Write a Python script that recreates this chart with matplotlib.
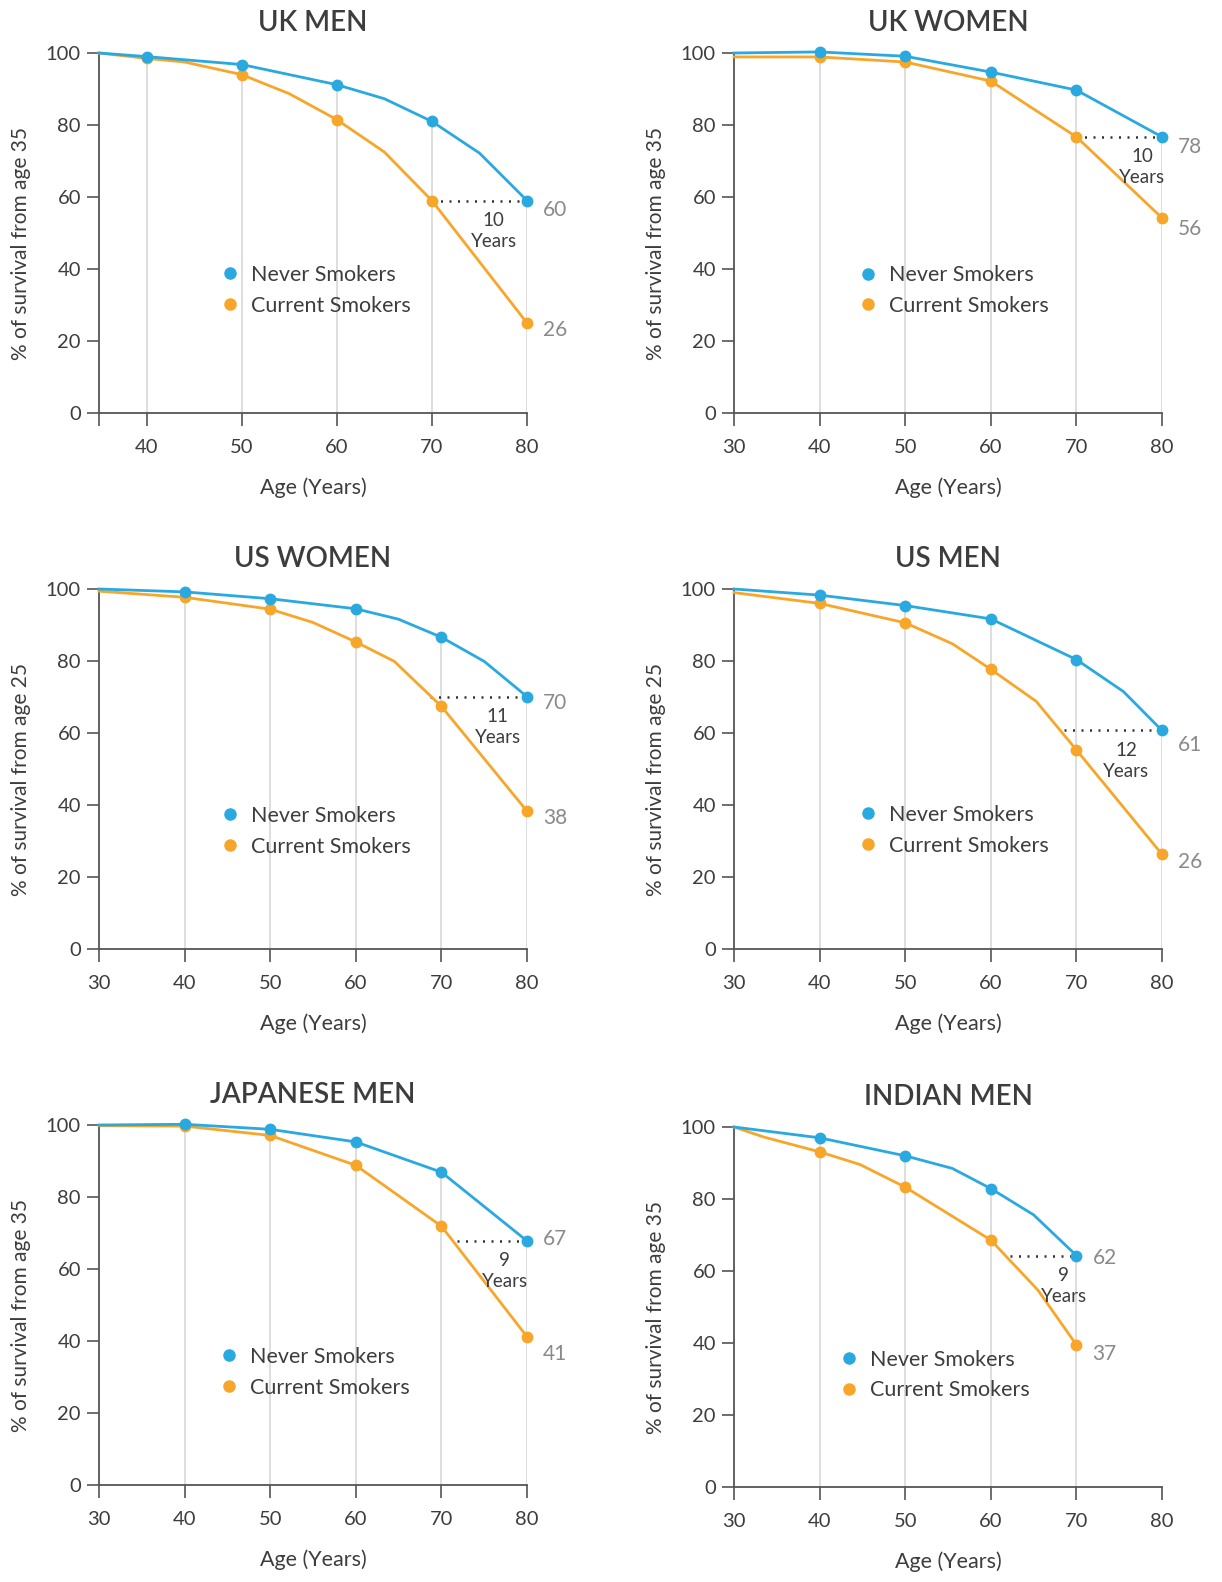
import numpy as np
import matplotlib
matplotlib.use("Agg")
import matplotlib.pyplot as plt
from matplotlib.lines import Line2D

plt.rcParams['font.family'] = ['Lato', 'DejaVu Sans']

# --- colours ---
BLUE = '#2aa9e0'
ORANGE = '#f8a62a'
DARK = '#3d3d3d'
AXIS = '#555555'
GRID = '#d4d4d4'
GREY = '#8a8a8a'

# --- data ---
titles = ["UK MEN", "UK WOMEN", "US WOMEN", "US MEN", "JAPANESE MEN", "INDIAN MEN"]
ylabels = ["% of survival from age 35", "% of survival from age 35",
           "% of survival from age 25", "% of survival from age 25",
           "% of survival from age 35", "% of survival from age 35"]
marker_ages = [40, 50, 60, 70, 80]
marker_ages_india = [40, 50, 60, 70]

uk_men_never_age = [35, 40, 50, 60, 65, 70, 75, 80]
uk_men_never = [100, 99.0, 96.8, 91.2, 87.3, 81.0, 72.2, 59.0]
uk_men_smoker_age = [35, 40, 44, 50, 55, 60, 65, 70, 80]
uk_men_smoker = [100, 98.5, 97.5, 94.0, 88.7, 81.5, 72.5, 59.0, 25.0]

uk_women_never_age = [30, 40, 50, 60, 70, 80]
uk_women_never = [100, 100.3, 99.1, 94.7, 89.7, 76.7]
uk_women_smoker_age = [30, 40, 50, 60, 70, 80]
uk_women_smoker = [98.9, 98.9, 97.5, 92.2, 76.7, 54.2]

us_women_never_age = [30, 40, 50, 60, 65, 70, 75, 80]
us_women_never = [100, 99.2, 97.3, 94.5, 91.6, 86.6, 79.9, 70.1]
us_women_smoker_age = [30, 40, 50, 55, 60, 64.5, 70, 80]
us_women_smoker = [99.4, 97.7, 94.4, 90.7, 85.3, 79.9, 67.4, 38.3]

us_men_never_age = [30, 40, 50, 60, 70, 75.5, 80]
us_men_never = [100, 98.3, 95.4, 91.7, 80.4, 71.5, 60.7]
us_men_smoker_age = [30, 40, 50, 55.5, 60, 65.3, 70, 80]
us_men_smoker = [99.0, 96.0, 90.6, 84.8, 77.7, 68.8, 55.3, 26.3]

jp_men_never_age = [30, 40, 50, 60, 70, 80]
jp_men_never = [100, 100.2, 98.8, 95.3, 86.9, 67.8]
jp_men_smoker_age = [30, 40, 50, 60, 70, 80]
jp_men_smoker = [99.8, 99.7, 97.1, 88.8, 71.9, 41.2]

in_men_never_age = [30, 40, 50, 55.5, 60, 65, 70]
in_men_never = [100, 97.0, 92.0, 88.5, 82.9, 75.6, 64.3]
in_men_smoker_age = [30, 33.5, 40, 44.7, 50, 60, 65.5, 70]
in_men_smoker = [100, 97.2, 93.1, 89.6, 83.3, 68.6, 54.7, 39.5]

# age at which smokers reach the never-smokers' final survival
gap_start = [70, 70, 68.7, 68.5, 71.8, 62.3]
gap_years = [10, 10, 11, 12, 9, 9]
end_never_labels = [60, 78, 70, 61, 67, 62]
end_smoker_labels = [26, 56, 38, 26, 41, 37]

panels = [
    (uk_men_never_age, uk_men_never, uk_men_smoker_age, uk_men_smoker, marker_ages),
    (uk_women_never_age, uk_women_never, uk_women_smoker_age, uk_women_smoker, marker_ages),
    (us_women_never_age, us_women_never, us_women_smoker_age, us_women_smoker, marker_ages),
    (us_men_never_age, us_men_never, us_men_smoker_age, us_men_smoker, marker_ages),
    (jp_men_never_age, jp_men_never, jp_men_smoker_age, jp_men_smoker, marker_ages),
    (in_men_never_age, in_men_never, in_men_smoker_age, in_men_smoker, marker_ages_india),
]

# --- layout (pixels on the 1222x1582 canvas) ---
W, H = 1222, 1582
ax_lefts = [99, 734, 99, 734, 99, 734]
ax_tops = [53, 53, 589, 589, 1125, 1127]
AX_W, AX_H = 428, 360
gap_text_x = [76.5, 77.7, 76.6, 75.8, 77.4, 68.5]
legend_anchor = [(0.280, 0.341), (0.287, 0.340), (0.280, 0.327),
                 (0.287, 0.330), (0.278, 0.313), (0.243, 0.311)]
never_dy = [-9, -10, -6, -15, 2, -2]
smoker_dy = [-7, -11, -7, -8, -17, -9]

fig = plt.figure(figsize=(W / 100, H / 100), dpi=100)

for i, (na, nv, sa, sv, mages) in enumerate(panels):
    ax = fig.add_axes([ax_lefts[i] / W, 1 - (ax_tops[i] + AX_H) / H, AX_W / W, AX_H / H])
    na, nv, sa, sv = map(np.asarray, (na, nv, sa, sv))
    nmask = np.isin(na, mages)
    smask = np.isin(sa, mages)

    # drop lines from the never-smoker points
    ax.vlines(na[nmask], 0, nv[nmask], color=GRID, lw=1.1, zorder=1)

    ax.plot(sa, sv, color=ORANGE, lw=2, marker='o', ms=7.5, markevery=smask,
            zorder=3, clip_on=False)
    ax.plot(na, nv, color=BLUE, lw=2, marker='o', ms=7.5, markevery=nmask,
            zorder=4, clip_on=False)

    # gap line
    ax.plot([gap_start[i], na[-1]], [nv[-1], nv[-1]], color='#333333', lw=1.8,
            linestyle=(0, (0.8, 2.6)), zorder=2)
    ax.text(gap_text_x[i], nv[-1] - 8.4, f"{gap_years[i]}\nYears", ha='center', va='center',
            fontsize=13.5, color=DARK, linespacing=1.3)

    ax.annotate(str(end_never_labels[i]), (na[-1], nv[-1]), xytext=(16, never_dy[i]),
                textcoords='offset pixels', ha='left', va='center', fontsize=15,
                color=GREY)
    ax.annotate(str(end_smoker_labels[i]), (sa[-1], sv[-1]), xytext=(16, smoker_dy[i]),
                textcoords='offset pixels', ha='left', va='center', fontsize=15,
                color=GREY)

    handles = [Line2D([], [], color=BLUE, marker='o', ls='none', ms=8),
               Line2D([], [], color=ORANGE, marker='o', ls='none', ms=8)]
    ax.legend(handles, ["Never Smokers", "Current Smokers"], loc='center left',
              bbox_to_anchor=legend_anchor[i], frameon=False, fontsize=15.5,
              handlelength=1.0, handletextpad=0.5, borderpad=0, borderaxespad=0,
              labelspacing=0.5, labelcolor=DARK)

    if i == 0:
        ax.set_xlim(35, 80)
        ax.set_xticks([35, 40, 50, 60, 70, 80])
        ax.set_xticklabels(["", "40", "50", "60", "70", "80"])
    else:
        ax.set_xlim(30, 80)
        ax.set_xticks([30, 40, 50, 60, 70, 80])
    ax.set_ylim(0, 100)
    ax.set_yticks([0, 20, 40, 60, 80, 100])

    for s in ['top', 'right']:
        ax.spines[s].set_visible(False)
    for s in ['left', 'bottom']:
        ax.spines[s].set_color(AXIS)
        ax.spines[s].set_linewidth(1.3)
    ax.tick_params(axis='both', colors=AXIS, length=9, width=1.2, labelsize=14.5,
                   labelcolor=DARK)
    ax.tick_params(axis='x', pad=10)
    ax.tick_params(axis='y', pad=4)

    ax.set_title(titles[i], fontsize=20, color=DARK, pad=16, fontweight='semibold')
    ax.set_ylabel(ylabels[i], fontsize=15, color=DARK)
    ax.yaxis.set_label_coords(-0.158, 0.47)
    ax.set_xlabel("Age (Years)", fontsize=15.5, color=DARK)
    ax.xaxis.set_label_coords(0.5, -0.178)

fig.savefig("out.png", dpi=100, facecolor='white')
